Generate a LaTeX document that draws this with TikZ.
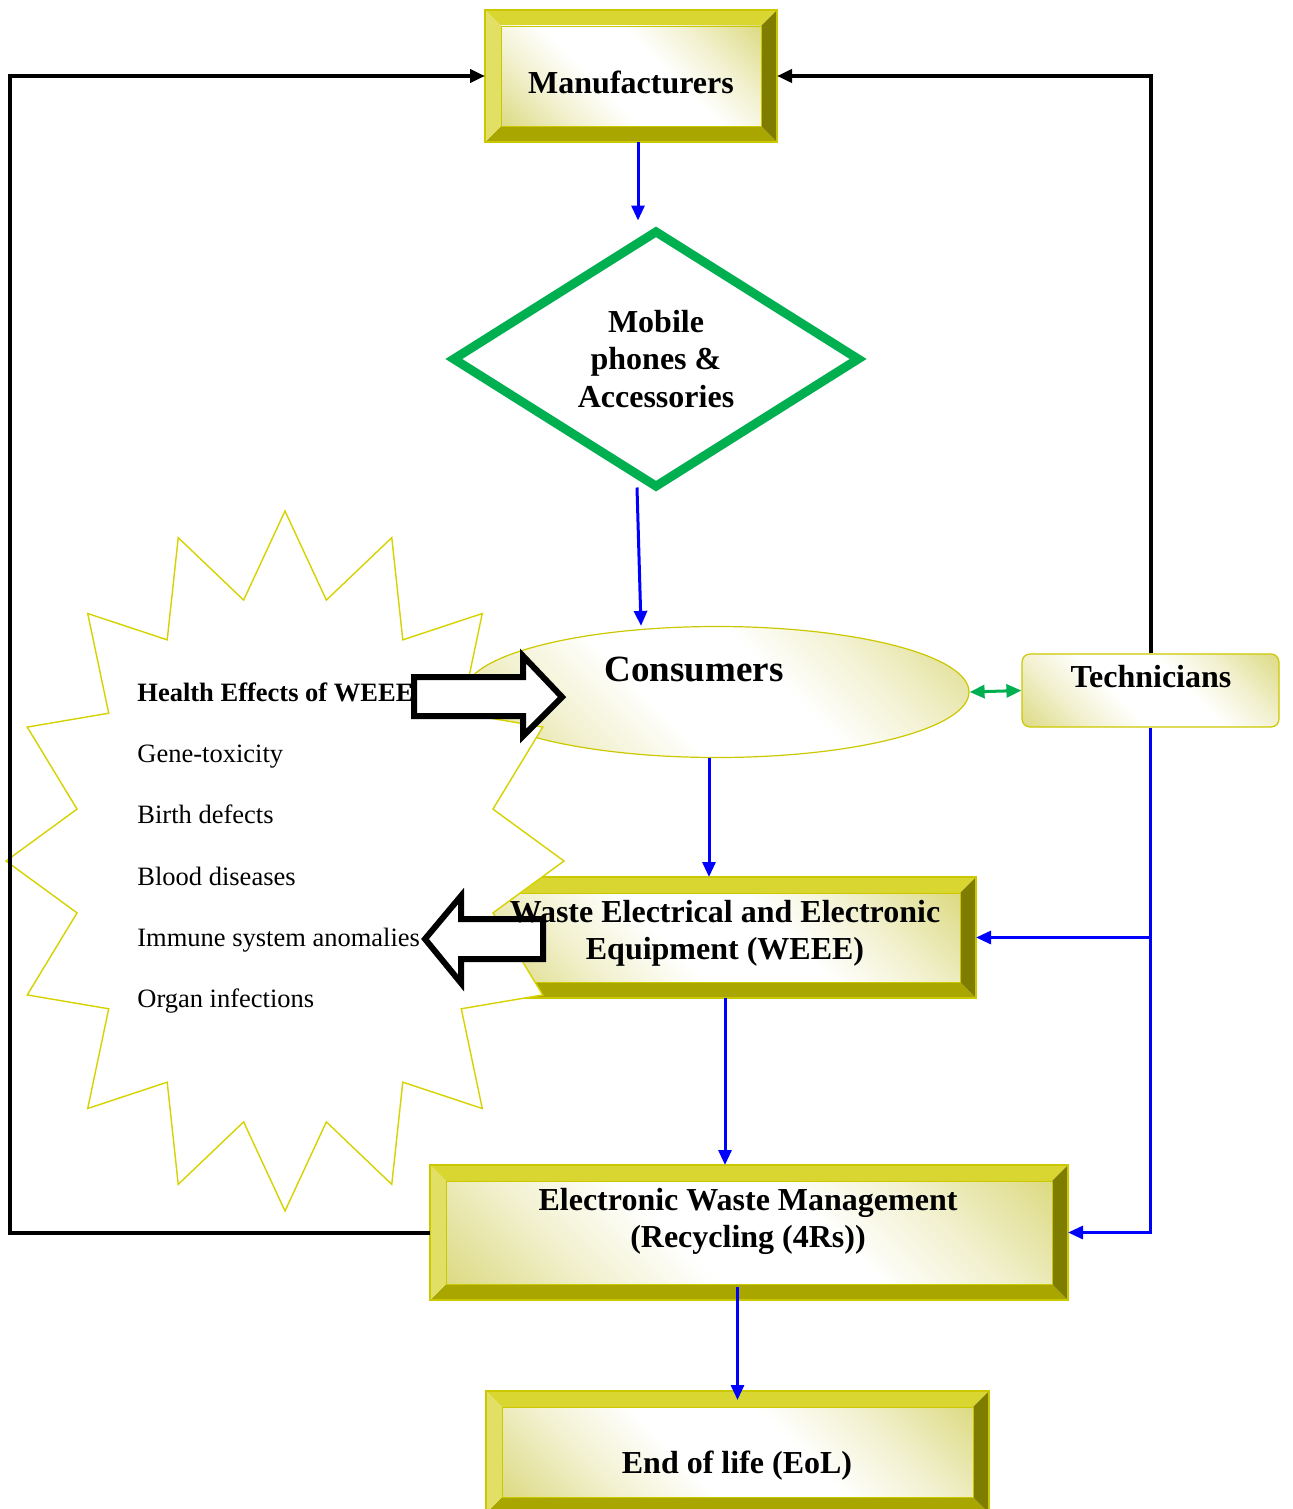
\documentclass[tikz,border=0pt]{standalone}
\usepackage{fontspec}
\setmainfont{Liberation Serif}
\usepackage{xcolor}
\usetikzlibrary{shapes.geometric,arrows.meta}

\definecolor{bevtop}{RGB}{217,214,49}
\definecolor{bevleft}{RGB}{226,224,100}
\definecolor{bevbot}{RGB}{170,166,0}
\definecolor{bevright}{RGB}{127,125,0}
\definecolor{bevedge}{RGB}{204,200,0}
\definecolor{faceol}{RGB}{204,200,70}
\definecolor{diagreen}{RGB}{0,176,80}
\definecolor{arrblue}{RGB}{0,0,255}
\definecolor{starline}{RGB}{214,210,0}

\pgfdeclareverticalshading{faceshade}{100bp}{color(0bp)=(faceol); color(8bp)=(faceol!85!white);
  color(30bp)=(faceol!25!white); color(42bp)=(white); color(58bp)=(white);
  color(70bp)=(faceol!25!white); color(92bp)=(faceol!85!white); color(100bp)=(faceol)}

% bevelled box: name, x1, y1, x2, y2 (pixels)
\newcommand{\bevelbox}[5]{%
  \fill[bevtop] (#2,#3) -- (#4,#3) -- (#4-16,#3+16) -- (#2+16,#3+16) -- cycle;
  \fill[bevbot] (#2,#5) -- (#4,#5) -- (#4-16,#5-16) -- (#2+16,#5-16) -- cycle;
  \fill[bevleft] (#2,#3) -- (#2+16,#3+16) -- (#2+16,#5-16) -- (#2,#5) -- cycle;
  \fill[bevright] (#4,#3) -- (#4-16,#3+16) -- (#4-16,#5-16) -- (#4,#5) -- cycle;
  \shade[face] (#2+16,#3+16) rectangle (#4-16,#5-16);
  \draw[bevedge,line width=0.4pt] (#2+16,#3+16) rectangle (#4-16,#5-16);
  \node[boxnode,minimum width={(#4-#2)*0.5pt},minimum height={(#5-#3)*0.5pt}]
    (#1) at ({(#2+#4)/2},{(#3+#5)/2}) {};
}

\begin{document}
\begin{tikzpicture}[x=0.5pt,y=-0.5pt,>={Triangle[length=7.5pt,width=6.5pt]},
  face/.style={shading=faceshade,shading angle=-45},
  boxnode/.style={draw=bevedge,line width=0.6pt,inner sep=0,outer sep=0},
  boxtext/.style={font=\fontsize{16}{18.5}\selectfont\bfseries,align=center,inner sep=0},
  listtext/.style={font=\fontsize{13.25}{16}\selectfont,anchor=base west,inner sep=0},
  hollow/.style={draw=black,fill=white,line width=3pt},
  blu/.style={draw=arrblue,line width=1.5pt,->},
  blk/.style={draw=black,line width=2pt,->},
  grn/.style={draw=diagreen,line width=1.5pt,<->}]

\useasboundingbox (0,0) rectangle (1293,1509);

% boxes
\bevelbox{manu}{485}{10}{777}{142}
\bevelbox{weee}{474}{877}{976}{998}
\bevelbox{ewm}{430}{1165}{1068}{1300}
\bevelbox{eol}{486}{1391}{989}{1513}

\node[ellipse,draw=bevedge,line width=0.6pt,face,minimum width=252pt,minimum height=65.5pt,inner sep=0]
  (cons) at (717,692) {};
\node[rectangle,rounded corners=4pt,draw=bevedge,line width=0.6pt,face,minimum width=128.5pt,minimum height=36.5pt,inner sep=0]
  (tech) at (1150.5,690.5) {};

\node[diamond,draw=diagreen,line width=4.5pt,aspect=1.57,minimum width=204pt,minimum height=129pt,inner sep=0,
  font=\fontsize{16}{18.75}\selectfont\bfseries,align=center]
  (mobile) at (656,359) {Mobile\\phones \&\\Accessories};

% health effects star
\draw[starline,fill=white,line width=0.7pt] (564,861)
  \foreach \i in {1,...,31} { -- ({285+279*(0.88+0.12*cos(180*\i))*cos(\i*11.25)},{861-350*(0.88+0.12*cos(180*\i))*sin(\i*11.25)}) } -- cycle;

\node[listtext,font=\fontsize{13.25}{16}\selectfont\bfseries] (hlth) at (137,701) {Health Effects of WEEE};
\node[listtext] (gene) at (137,762) {Gene-toxicity};
\node[listtext] (birth) at (137,823) {Birth defects};
\node[listtext] (blood) at (137,885) {Blood diseases};
\node[listtext] (immune) at (137,946) {Immune system anomalies};
\node[listtext] (organ) at (137,1007) {Organ infections};

% block arrows
\draw[hollow] (414,677) -- (523,677) -- (523,656) -- (562,697) -- (523,736) -- (523,716) -- (414,716) -- cycle;
\draw[hollow] (543,919) -- (461,919) -- (461,896) -- (425,939) -- (461,983) -- (461,959) -- (543,959) -- cycle;

% labels
\node[boxtext] (manutext) at (631,82) {Manufacturers};
\node[boxtext,font=\fontsize{18.5}{22}\selectfont\bfseries] (constext) at (694,669) {Consumers};
\node[boxtext] (techtext) at (1151,677) {Technicians};
\node[boxtext] (weeetext) at (725,933) {Waste Electrical and Electronic\\Equipment (WEEE)};
\node[boxtext] (ewmtext) at (748,1221) {Electronic Waste Management\\(Recycling (4Rs))};
\node[boxtext] (eoltext) at (737,1466) {End of life (EoL)};

% connectors
\coordinate (rail) at (10,0);
\draw[blu,shorten >=2.5pt] ([xshift=3.5pt]manu.south) -- ([xshift=3.5pt]manu.south |- mobile.north);
\draw[blu] ([xshift=-9.5pt,yshift=2.5pt]mobile.south) -- ([xshift=-38pt]cons.north);
\draw[blu] ([xshift=-4pt]cons.south) -- ([xshift=-4pt]cons.south |- weee.north);
\draw[blu] (weee.south) -- (weee.south |- ewm.north);
\draw[blu] ([yshift=6.5pt]ewm.south -| eol.north) -- ([yshift=-4.5pt]eol.north);
\draw[blu] (tech.south) -- (tech.south |- ewm.east) -- (ewm.east);
\draw[blu] (tech.south |- weee.east) -- (weee.east);
\draw[blk] (tech.north) |- (manu.east);
\draw[blk] (ewm.west) -- (ewm.west -| rail) |- (manu.west);
\draw[grn] (cons.east) -- (tech.west);

\end{tikzpicture}
\end{document}
